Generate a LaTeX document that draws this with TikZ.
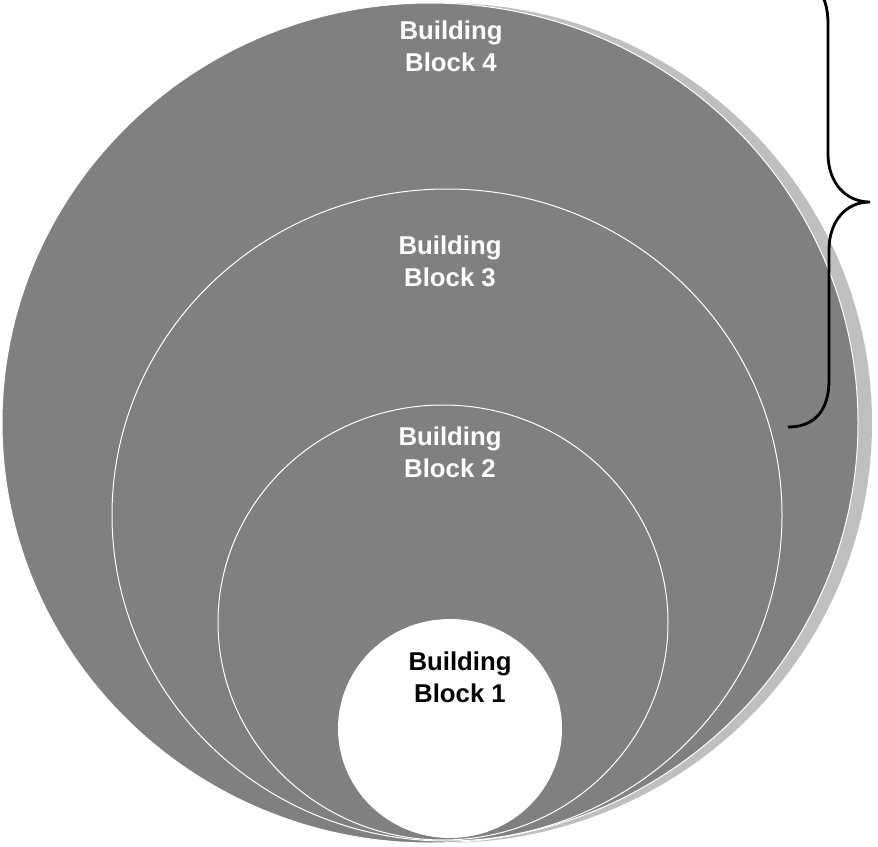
\documentclass[tikz,border=0pt]{standalone}
\usepackage{fontspec}
\setmainfont{Liberation Sans}
\definecolor{ringgray}{RGB}{128,128,128}
\definecolor{shadowgray}{RGB}{191,191,191}

\begin{document}
\begin{tikzpicture}[x=1pt,y=-1pt,
        venn/.style={fill=ringgray,draw=white,line width=1pt},
        blocktext/.style={font=\fontsize{25.75}{32}\selectfont\bfseries,align=center,text=white,inner sep=0pt}]
        \clip (0,0) rectangle (878,846);
        \fill[white] (0,0) rectangle (878,846);
        \fill[shadowgray] (444,423) ellipse [x radius=428pt, y radius=420pt];
        \draw[venn] (430,423) ellipse [x radius=428pt, y radius=420pt];
        \draw[venn] (447,515) ellipse [x radius=335pt, y radius=326pt];
        \draw[venn] (443,622.5) ellipse [x radius=225pt, y radius=217.5pt];
        \fill[white] (450,728.5) ellipse [x radius=112pt, y radius=109.5pt];

        \node[blocktext] (bb4) at (451,46) {Building\\Block 4};
        \node[blocktext] (bb3) at (450,261) {Building\\Block 3};
        \node[blocktext] (bb2) at (450,452) {Building\\Block 2};
        \node[blocktext,text=black] (bb1) at (460,677) {Building\\Block 1};

        \draw[line width=2.8pt] (788,427) .. controls (815,427) and (829,410) .. (829,380) -- (829,250)
            .. controls (829,222) and (845,202) .. (870,202)
            .. controls (845,202) and (828,182) .. (828,154) -- (828,24)
            .. controls (828,-6) and (815,-23) .. (788,-23);
    \end{tikzpicture}
\end{document}
